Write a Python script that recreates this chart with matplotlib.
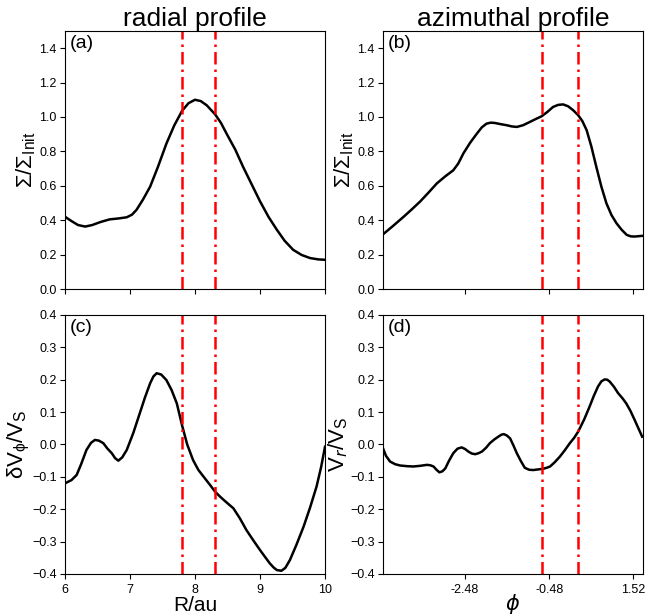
import matplotlib
matplotlib.use("Agg")
import matplotlib.pyplot as plt
import numpy as np

plt.rcParams.update({
    "font.family": ["Liberation Sans", "DejaVu Sans"],
    "mathtext.fontset": "custom",
    "mathtext.rm": "Liberation Sans",
    "mathtext.it": "DejaVu Sans:italic",
    "xtick.labelsize": 9,
    "ytick.labelsize": 9,
    "ytick.major.pad": 2.5,
})

# (a) radial surface density profile
r_a = [6.0, 6.1, 6.2, 6.31, 6.42, 6.55, 6.69, 6.82, 6.95, 7.03, 7.1, 7.2, 7.31,
       7.43, 7.56, 7.68, 7.8, 7.9, 8.0, 8.09, 8.18, 8.31, 8.4, 8.49, 8.62, 8.74,
       8.87, 9.0, 9.13, 9.26, 9.38, 9.51, 9.64, 9.77, 9.9, 10.0]
sig_a = [0.42, 0.395, 0.372, 0.363, 0.372, 0.39, 0.405, 0.41, 0.417, 0.432, 0.46,
         0.52, 0.595, 0.71, 0.845, 0.95, 1.035, 1.08, 1.10, 1.092, 1.068, 1.015,
         0.965, 0.90, 0.81, 0.71, 0.61, 0.51, 0.42, 0.344, 0.28, 0.228, 0.198,
         0.18, 0.172, 0.17]

# (b) azimuthal surface density profile
phi_b = [-4.43, -4.2, -3.94, -3.75, -3.55, -3.35, -3.15, -2.95, -2.76, -2.64,
         -2.52, -2.36, -2.20, -2.08, -1.97, -1.87, -1.77, -1.63, -1.49, -1.37,
         -1.25, -1.1, -0.94, -0.8, -0.66, -0.52, -0.39, -0.27, -0.15, -0.03,
         0.09, 0.21, 0.31, 0.41, 0.52, 0.64, 0.76, 0.88, 1.0, 1.12, 1.24, 1.36,
         1.46, 1.55, 1.73]
sig_b = [0.318, 0.365, 0.42, 0.462, 0.508, 0.56, 0.614, 0.655, 0.69, 0.73,
         0.788, 0.85, 0.903, 0.94, 0.961, 0.967, 0.965, 0.958, 0.952, 0.945,
         0.942, 0.952, 0.971, 0.988, 1.004, 1.03, 1.058, 1.07, 1.073, 1.062,
         1.039, 1.01, 0.975, 0.923, 0.83, 0.71, 0.595, 0.498, 0.43, 0.382,
         0.345, 0.315, 0.306, 0.305, 0.309]

# (c) radial delta V_phi / V_S
r_c = [6.0, 6.1, 6.18, 6.25, 6.33, 6.4, 6.46, 6.52, 6.59, 6.65, 6.72, 6.77,
       6.82, 6.88, 6.95, 7.05, 7.15, 7.23, 7.31, 7.36, 7.41, 7.48, 7.56, 7.64,
       7.72, 7.8, 7.88, 7.97, 8.05, 8.13, 8.22, 8.31, 8.38, 8.44, 8.52, 8.59,
       8.69, 8.79, 8.9, 9.0, 9.08, 9.15, 9.21, 9.26, 9.33, 9.39, 9.46, 9.56,
       9.67, 9.77, 9.87, 9.94, 10.0]
dv_c = [-0.12, -0.11, -0.094, -0.06, -0.017, 0.005, 0.014, 0.012, 0.004, -0.012,
        -0.027, -0.042, -0.05, -0.04, -0.017, 0.035, 0.096, 0.145, 0.189, 0.21,
        0.22, 0.216, 0.199, 0.168, 0.127, 0.06, 0.0, -0.048, -0.078, -0.099,
        -0.122, -0.146, -0.16, -0.171, -0.185, -0.197, -0.228, -0.264, -0.297,
        -0.326, -0.348, -0.367, -0.38, -0.388, -0.39, -0.381, -0.357, -0.31,
        -0.254, -0.195, -0.13, -0.07, -0.007]

# (d) azimuthal V_r / V_S
phi_d = [-4.43, -4.36, -4.26, -4.14, -4.02, -3.86, -3.71, -3.55, -3.39, -3.31,
         -3.23, -3.16, -3.09, -3.02, -2.95, -2.86, -2.76, -2.66, -2.56, -2.48,
         -2.40, -2.32, -2.24, -2.16, -2.08, -1.98, -1.89, -1.79, -1.69, -1.62,
         -1.56, -1.49, -1.41, -1.33, -1.25, -1.15, -1.06, -0.96, -0.86, -0.74,
         -0.62, -0.54, -0.46, -0.35, -0.23, -0.11, 0.01, 0.11, 0.21, 0.35, 0.48,
         0.58, 0.68, 0.76, 0.84, 0.9, 0.96, 1.06, 1.16, 1.26, 1.35, 1.45, 1.55,
         1.64, 1.73]
vr_d = [-0.012, -0.035, -0.053, -0.061, -0.065, -0.067, -0.068, -0.066, -0.063,
        -0.064, -0.068, -0.078, -0.086, -0.083, -0.074, -0.05, -0.027, -0.013,
        -0.009, -0.014, -0.022, -0.028, -0.03, -0.027, -0.022, -0.01, 0.004,
        0.015, 0.024, 0.03, 0.032, 0.028, 0.019, -0.003, -0.027, -0.052, -0.072,
        -0.078, -0.079, -0.077, -0.075, -0.072, -0.068, -0.055, -0.038, -0.018,
        0.004, 0.02, 0.040, 0.077, 0.117, 0.15, 0.179, 0.195, 0.201, 0.2, 0.194,
        0.178, 0.158, 0.143, 0.127, 0.104, 0.076, 0.05, 0.024]

r_marks = [7.8, 8.31]
phi_marks = [-0.65, 0.21]
phi_ticks = [-2.48, -0.48, 1.52]

fig = plt.figure(figsize=(6.46, 6.16), dpi=100)
ax_a = fig.add_axes([0.1006, 0.5308, 0.4025, 0.419])
ax_b = fig.add_axes([0.5929, 0.5308, 0.4025, 0.419])
ax_c = fig.add_axes([0.1006, 0.0682, 0.4025, 0.4205])
ax_d = fig.add_axes([0.5929, 0.0682, 0.4025, 0.4205])

for ax, x, y, marks in [(ax_a, r_a, sig_a, r_marks), (ax_b, phi_b, sig_b, phi_marks),
                        (ax_c, r_c, dv_c, r_marks), (ax_d, phi_d, vr_d, phi_marks)]:
    ax.plot(x, y, color="black", lw=1.8, solid_joinstyle="round")
    for m in marks:
        ax.axvline(m, color="red", ls=(0, (5, 2, 1, 2)), lw=1.8)

for ax in (ax_a, ax_c):
    ax.set_xlim(6, 10)
    ax.set_xticks([6, 7, 8, 9, 10])
for ax in (ax_b, ax_d):
    ax.set_xlim(-4.43, 1.75)
    ax.set_xticks(phi_ticks)
    ax.set_xticklabels([f"{t:.2f}" for t in phi_ticks])
for ax in (ax_a, ax_b):
    ax.set_ylim(0, 1.5)
    ax.set_yticks(np.arange(0, 1.41, 0.2))
    ax.tick_params(labelbottom=False)
    ax.set_ylabel(r"$\Sigma/\Sigma_{\rm Init}$", fontsize=16, labelpad=1)
for ax in (ax_c, ax_d):
    ax.set_ylim(-0.4, 0.4)
    ax.set_yticks(np.arange(-0.4, 0.41, 0.1))

ax_c.set_ylabel(r"$\mathrm{\delta V_{\phi}/V_{S}}$", fontsize=16, labelpad=0)
ax_d.set_ylabel(r"$\mathrm{V}_{r}\mathrm{/V_{S}}$", fontsize=16, labelpad=0)
ax_c.set_xlabel("R/au", fontsize=15, labelpad=0)
ax_d.set_xlabel(r"$\phi$", fontsize=15, labelpad=-3)

ax_a.set_title("radial profile", fontsize=19, pad=2)
ax_b.set_title("azimuthal profile", fontsize=19, pad=2)

for ax, lab in zip((ax_a, ax_b, ax_c, ax_d), ("(a)", "(b)", "(c)", "(d)")):
    ax.text(0.02, 0.985, lab, transform=ax.transAxes, ha="left", va="top", fontsize=14)

fig.savefig("out.png", dpi=100)
